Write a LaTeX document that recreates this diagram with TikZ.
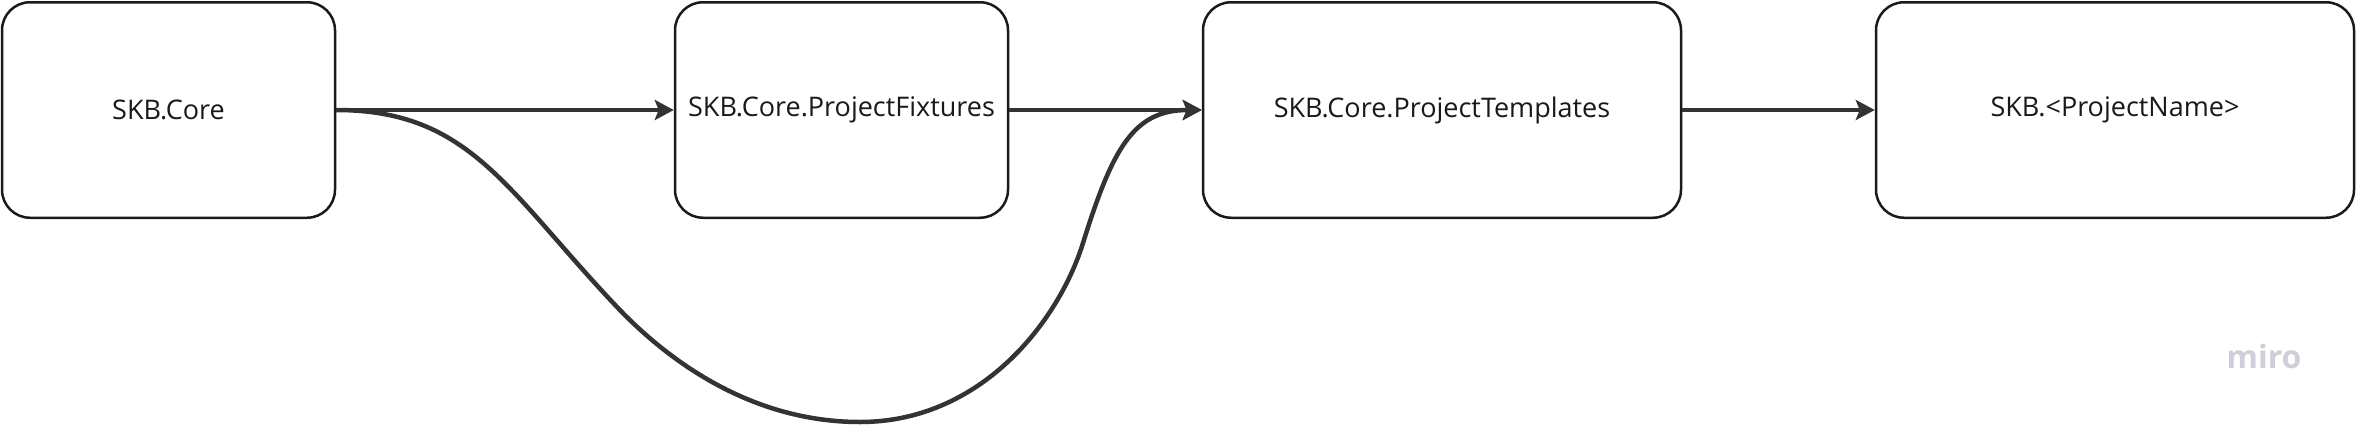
\documentclass[tikz,border=0pt]{standalone}
\usepackage{fontspec}
\setmainfont{Open Sans}
\usetikzlibrary{arrows.meta}
\definecolor{boxline}{HTML}{1A1A1A}
\definecolor{arrowline}{HTML}{333333}
\definecolor{mirogray}{HTML}{CFCFDA}
\begin{document}
\begin{tikzpicture}[x=1pt,y=-1pt,
  box/.style={draw=boxline, line width=2.5pt, rounded corners=28pt, minimum height=215.5pt, inner sep=0pt, font=\fontsize{27}{32}\selectfont, text=black!90},
  conn/.style={draw=arrowline, line width=4.5pt, -{Stealth[length=19pt,width=20pt,inset=4pt]}}]
\useasboundingbox (0,0) rectangle (2356,424);
\node[box, minimum width=333pt] (core) at (168.5,110) {SKB.Core};
\node[box, minimum width=333pt] (fix) at (841.5,110) {SKB.Core.ProjectFixtures};
\node[box, minimum width=478pt] (templ) at (1442,110) {SKB.Core.ProjectTemplates};
\node[box, minimum width=478pt] (proj) at (2115,110) {SKB.<ProjectName>};
\draw[conn] (core.east) -- (fix.west);
\draw[conn] (fix.east) -- (templ.west);
\draw[conn] (templ.east) -- (proj.west);
\draw[conn] (core.east) .. controls (470,110) and (507,191) .. (617,307)
  .. controls (677,370) and (760,422) .. (860,422)
  .. controls (980,422) and (1058,323) .. (1083,243)
  .. controls (1113,147) and (1134,110) .. (templ.west);
\node[text=mirogray, font=\fontsize{32}{36}\selectfont\bfseries, anchor=base, inner sep=0pt] (miro) at (2264,368) {miro};
\end{tikzpicture}
\end{document}
